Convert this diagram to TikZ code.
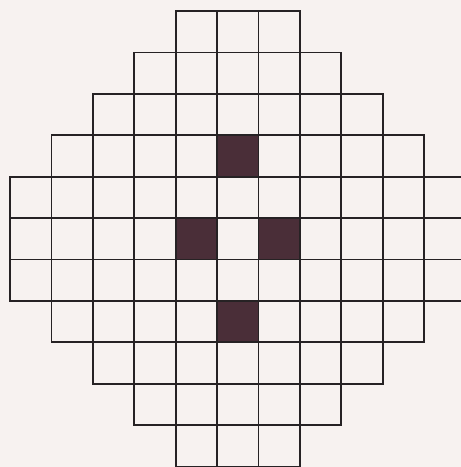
\documentclass[tikz,border=0pt]{standalone}
\definecolor{paper}{RGB}{247,242,240}
\definecolor{ink}{RGB}{38,34,36}
\definecolor{darkcell}{RGB}{74,46,56}
\tikzset{
  gridcell/.style={draw=ink,line width=1.8pt,line join=miter},
  shaded/.style={fill=darkcell}
}
\begin{document}
\begin{tikzpicture}[x=1pt,y=-1pt]
\fill[paper] (0,0) rectangle (461,467);
\useasboundingbox (0,0) rectangle (461,467);
\clip (0,0) rectangle (461,467);
\def\s{41.4}
\def\xo{10}
\def\yo{11}
% shaded cells (row/column, counted from 0 at top/left)
\foreach \r/\c in {3/5,5/4,5/6,7/5}{
  \fill[shaded] ({\xo+\c*\s},{\yo+\r*\s}) rectangle ({\xo+(\c+1)*\s},{\yo+(\r+1)*\s});
}
% grid: row / first column / last column
\foreach \r/\a/\b in {0/4/6,1/3/7,2/2/8,3/1/9,4/0/10,5/0/10,6/0/10,7/1/9,8/2/8,9/3/7,10/4/6}{
  \foreach \c in {\a,...,\b}{
    \draw[gridcell] ({\xo+\c*\s},{\yo+\r*\s}) rectangle ({\xo+(\c+1)*\s},{\yo+(\r+1)*\s});
  }
}
\end{tikzpicture}
\end{document}
